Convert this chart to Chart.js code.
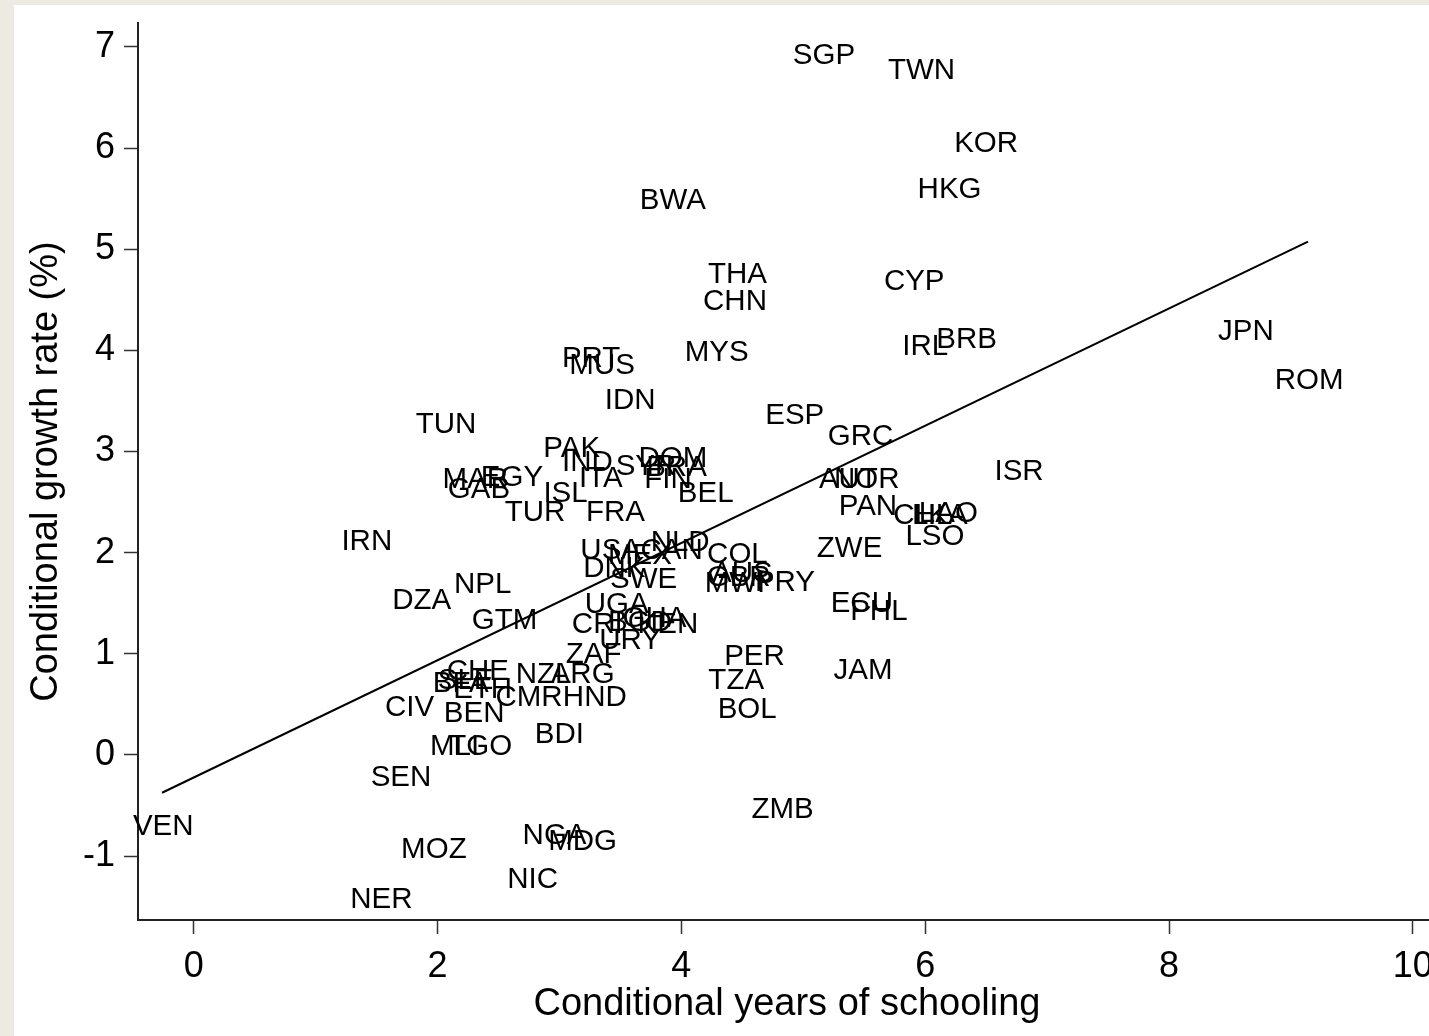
<!DOCTYPE html>
<html>
<head>
<meta charset="utf-8">
<script src="https://cdn.jsdelivr.net/npm/chart.js@4.4.1/dist/chart.umd.min.js"></script>
<style>
  html, body { margin: 0; padding: 0; width: 1429px; height: 1036px; overflow: hidden; background: #EDEAE3; }
  #wrap { position: absolute; left: 14px; top: 5px; width: 1440px; height: 1031px; background: #ffffff; }
  canvas { display: block; }
</style>
</head>
<body>
<div id="wrap"><canvas id="c" width="1440" height="1031"></canvas></div>
<script>
// Country codes (labels drawn at each point)
const countries = ["SGP","TWN","KOR","HKG","BWA","THA","CHN","CYP","IRL","BRB","JPN","ROM","MYS","PRT","MUS","IDN","ESP","TUN","GRC","PAK","IND","ITA","SYR","DOM","BRA","FIN","BEL","AUT","NOR","ISR","MAR","EGY","GAB","ISL","TUR","FRA","PAN","CHL","LKA","LAO","LSO","IRN","NLD","USA","MEX","CAN","DNK","SWE","COL","AUS","GBR","MWI","PRY","ZWE","ECU","PHL","NPL","DZA","GTM","UGA","CRI","BGD","GHA","KEN","URY","ZAF","PER","JAM","TZA","CHE","BFA","SLE","ETH","NZL","ARG","CMR","HND","CIV","BEN","BOL","MLI","TGO","BDI","SEN","ZMB","VEN","NGA","MDG","MOZ","NIC","NER"];
// Conditional years of schooling
const schooling = [5.17,5.97,6.50,6.20,3.93,4.46,4.44,5.91,6.00,6.34,8.63,9.15,4.29,3.26,3.35,3.58,4.93,2.07,5.47,3.10,3.23,3.34,3.71,3.93,3.96,3.89,4.20,5.37,5.52,6.77,2.31,2.61,2.34,3.05,2.80,3.46,5.53,5.98,6.12,6.19,6.08,1.42,3.99,3.42,3.66,3.92,3.45,3.69,4.46,4.50,4.47,4.44,4.85,5.38,5.48,5.62,2.37,1.87,2.55,3.47,3.31,3.66,3.78,3.89,3.58,3.28,4.60,5.49,4.45,2.33,2.19,2.23,2.37,2.87,3.19,2.75,3.29,1.77,2.30,4.54,2.14,2.35,3.00,1.70,4.83,-0.25,2.96,3.19,1.97,2.78,1.54];
// Conditional growth rate (%)
const growth = [6.91,6.76,6.04,5.59,5.48,4.75,4.48,4.68,4.03,4.10,4.18,3.70,3.97,3.92,3.85,3.50,3.35,3.26,3.14,3.03,2.89,2.73,2.85,2.93,2.84,2.72,2.58,2.72,2.72,2.80,2.72,2.74,2.62,2.58,2.39,2.39,2.45,2.36,2.36,2.38,2.16,2.11,2.10,2.02,1.97,2.02,1.84,1.73,1.98,1.79,1.75,1.69,1.70,2.04,1.49,1.41,1.68,1.52,1.33,1.48,1.29,1.31,1.35,1.29,1.13,0.99,0.97,0.83,0.73,0.82,0.70,0.73,0.64,0.79,0.79,0.56,0.56,0.47,0.41,0.45,0.08,0.08,0.20,-0.23,-0.54,-0.71,-0.80,-0.86,-0.94,-1.24,-1.43];
// Fitted line endpoints
const fitX = [-0.26, 9.14];
const fitY = [-0.374, 5.075];
// Axis ticks
const xTicks = [0, 2, 4, 6, 8, 10];
const yTicks = [-1, 0, 1, 2, 3, 4, 5, 6, 7];

const FONT = "'Liberation Sans', Arial, sans-serif";

const labelPlugin = {
  id: 'countryLabels',
  beforeDatasetsDraw(chart) {
    const meta = chart.getDatasetMeta(0);
    const ctx = chart.ctx;
    ctx.save();
    ctx.font = "29.5px " + FONT;
    ctx.fillStyle = "#000";
    ctx.textAlign = "center";
    ctx.textBaseline = "middle";
    meta.data.forEach((pt, i) => {
      ctx.fillText(countries[i], pt.x, pt.y);
    });
    ctx.restore();
  }
};

new Chart(document.getElementById('c'), {
  type: 'scatter',
  data: {
    datasets: [
      {
        label: 'countries',
        data: schooling.map((x, i) => ({ x: x, y: growth[i] })),
        pointRadius: 0,
        pointHoverRadius: 0,
        showLine: false
      },
      {
        label: 'fit',
        data: fitX.map((x, i) => ({ x: x, y: fitY[i] })),
        showLine: true,
        borderColor: '#000',
        borderWidth: 2,
        pointRadius: 0,
        fill: false
      }
    ]
  },
  options: {
    responsive: false,
    animation: false,
    events: [],
    layout: { padding: { left: 0, top: 18, right: 18, bottom: 0 } },
    plugins: { legend: { display: false }, tooltip: { enabled: false } },
    scales: {
      x: {
        type: 'linear',
        min: -0.457,
        max: 10.19,
        afterFit(scale) { scale.height = 116; scale.paddingLeft = 0; scale.paddingRight = 0; },
        afterBuildTicks(scale) { scale.ticks = xTicks.map(v => ({ value: v })); },
        ticks: { font: { size: 36, family: FONT }, color: '#000', padding: 11, maxRotation: 0, includeBounds: false },
        grid: { drawOnChartArea: false, tickLength: 14, tickColor: '#333', tickWidth: 1.5 },
        border: { display: true, color: '#222', width: 2 },
        title: { display: true, text: 'Conditional years of schooling', font: { size: 38, family: FONT }, color: '#000', padding: { top: 0, bottom: 9 } }
      },
      y: {
        type: 'linear',
        min: -1.632,
        max: 7.236,
        afterFit(scale) { scale.width = 124; scale.paddingTop = 0; scale.paddingBottom = 0; },
        afterBuildTicks(scale) { scale.ticks = yTicks.map(v => ({ value: v })); },
        ticks: { font: { size: 36, family: FONT }, color: '#000', padding: 9, includeBounds: false },
        grid: { drawOnChartArea: false, tickLength: 14, tickColor: '#333', tickWidth: 1.5 },
        border: { display: true, color: '#222', width: 2 },
        title: { display: true, text: 'Conditional growth rate (%)', font: { size: 38, family: FONT }, color: '#000', padding: { top: 10, bottom: 0 } }
      }
    }
  },
  plugins: [labelPlugin]
});
</script>
</body>
</html>
